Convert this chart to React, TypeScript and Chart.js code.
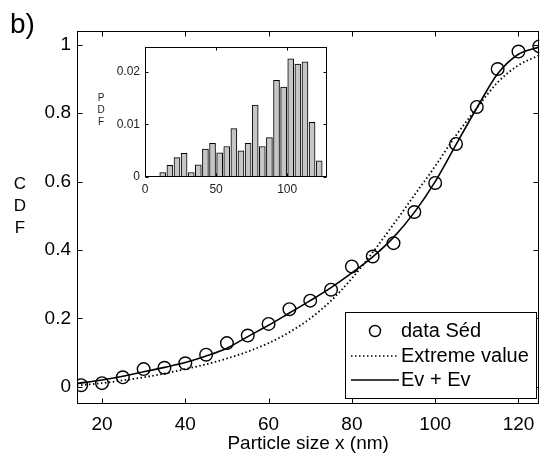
import React, { useEffect, useRef } from 'react';
import { Chart, registerables } from 'chart.js';
Chart.register(...registerables);

// ---- Data ----
const sizeX = [15, 20, 25, 30, 35, 40, 45, 50, 55, 60, 65, 70, 75, 80, 85, 90, 95, 100, 105, 110, 115, 120, 125];
const cdfData = [0.005, 0.011, 0.028, 0.052, 0.056, 0.069, 0.094, 0.128, 0.150, 0.184, 0.227, 0.252, 0.284, 0.352, 0.381, 0.420, 0.511, 0.596, 0.710, 0.818, 0.929, 0.980, 0.995];

const curveX = [14, 20, 25, 30, 35, 40, 45, 50, 55, 60, 65, 70, 75, 80, 85, 90, 95, 100, 105, 110, 115, 120, 125];
const extremeValue = [0.004, 0.011, 0.019, 0.028, 0.039, 0.052, 0.066, 0.083, 0.103, 0.128, 0.16, 0.2, 0.252, 0.317, 0.393, 0.475, 0.56, 0.645, 0.735, 0.815, 0.89, 0.94, 0.969];
const evPlusEv = [0.01, 0.02, 0.031, 0.044, 0.057, 0.071, 0.09, 0.113, 0.147, 0.18, 0.216, 0.252, 0.29, 0.333, 0.38, 0.437, 0.51, 0.6, 0.708, 0.815, 0.915, 0.972, 0.993];

const xTicks = [20, 40, 60, 80, 100, 120];
const yTicks = [0, 0.2, 0.4, 0.6, 0.8, 1];

const binCenters = [12.5, 17.5, 22.5, 27.5, 32.5, 37.5, 42.5, 47.5, 52.5, 57.5, 62.5, 67.5, 72.5, 77.5, 82.5, 87.5, 92.5, 97.5, 102.5, 107.5, 112.5, 117.5, 122.5];
const pdfValues = [0.00085, 0.0022, 0.0037, 0.0045, 0.00085, 0.0023, 0.0053, 0.0064, 0.0046, 0.0058, 0.0092, 0.005, 0.0064, 0.0137, 0.0058, 0.0075, 0.0184, 0.0171, 0.0225, 0.0215, 0.0219, 0.0104, 0.0031];
const insetXTicks = [0, 50, 100];
const insetYTicks = [0, 0.01, 0.02];

const legendLabels = ['data Séd', 'Extreme value', 'Ev + Ev'];

const FONT = "'Liberation Sans', Arial, sans-serif";

function makeFrame(len: number) {
  return {
    id: 'frame',
    afterDatasetsDraw(chart: any) {
      const { ctx, chartArea: a, scales } = chart;
      ctx.save();
      ctx.strokeStyle = '#000';
      ctx.lineWidth = 1;
      const L = Math.round(a.left) + 0.5, R = Math.round(a.right) - 0.5;
      const T = Math.round(a.top) + 0.5, B = Math.round(a.bottom) - 0.5;
      ctx.strokeRect(L, T, R - L, B - T);
      ctx.beginPath();
      scales.x.ticks.forEach((t: any) => {
        const p = Math.round(scales.x.getPixelForValue(t.value)) + 0.5;
        ctx.moveTo(p, B); ctx.lineTo(p, B - len);
        ctx.moveTo(p, T); ctx.lineTo(p, T + len);
      });
      scales.y.ticks.forEach((t: any) => {
        const p = Math.round(scales.y.getPixelForValue(t.value)) + 0.5;
        ctx.moveTo(L, p); ctx.lineTo(L + len, p);
        ctx.moveTo(R, p); ctx.lineTo(R - len, p);
      });
      ctx.stroke();
      ctx.restore();
    },
  };
}

const mainDecor = {
  id: 'mainDecor',
  beforeDraw(chart: any) {
    const { ctx, width, height } = chart;
    ctx.save();
    ctx.fillStyle = '#fff';
    ctx.fillRect(0, 0, width, height);
    ctx.restore();
  },
  afterDraw(chart: any) {
    const { ctx } = chart;
    ctx.save();
    ctx.fillStyle = '#000';
    ctx.textBaseline = 'alphabetic';
    ctx.textAlign = 'left';
    ctx.font = `28px ${FONT}`;
    ctx.fillText('b)', 10, 33);
    ctx.font = `17px ${FONT}`;
    ctx.textAlign = 'center';
    ctx.textBaseline = 'middle';
    ['C', 'D', 'F'].forEach((c, i) => ctx.fillText(c, 20, 184 + i * 22));

    // legend
    const bx = 345.5, by = 312.5, bw = 191, bh = 86;
    ctx.fillStyle = '#fff';
    ctx.fillRect(bx, by, bw, bh);
    ctx.strokeStyle = '#000';
    ctx.lineWidth = 1;
    ctx.strokeRect(bx, by, bw, bh);
    ctx.font = `20px ${FONT}`;
    ctx.textAlign = 'left';
    ctx.fillStyle = '#000';
    const rows = [331, 356, 380];
    ctx.lineWidth = 1.4;
    ctx.beginPath();
    ctx.arc(375, rows[0], 5.5, 0, Math.PI * 2);
    ctx.stroke();
    ctx.lineWidth = 1.6;
    ctx.setLineDash([1.5, 2.5]);
    ctx.beginPath();
    ctx.moveTo(351, rows[1]); ctx.lineTo(399, rows[1]);
    ctx.stroke();
    ctx.setLineDash([]);
    ctx.lineWidth = 1.6;
    ctx.beginPath();
    ctx.moveTo(351, rows[2]); ctx.lineTo(399, rows[2]);
    ctx.stroke();
    ctx.fillText(legendLabels[0], 401, rows[0]);
    ctx.fillText(legendLabels[1], 401, rows[1]);
    ctx.fillText(legendLabels[2], 401, rows[2]);
    ctx.restore();
  },
};

const insetDecor = {
  id: 'insetDecor',
  afterDraw(chart: any) {
    const { ctx } = chart;
    ctx.save();
    ctx.fillStyle = '#222';
    ctx.font = `10px ${FONT}`;
    ctx.textAlign = 'center';
    ctx.textBaseline = 'middle';
    ['P', 'D', 'F'].forEach((c, i) => ctx.fillText(c, 6, 63 + i * 12));
    ctx.restore();
  },
};

export default function App() {
  const mainRef = useRef<HTMLCanvasElement>(null);
  const insetRef = useRef<HTMLCanvasElement>(null);

  useEffect(() => {
    const main = new Chart(mainRef.current!, {
      type: 'line',
      data: {
        datasets: [
          {
            label: legendLabels[0],
            data: sizeX.map((x, i) => ({ x, y: cdfData[i] })),
            showLine: false,
            pointRadius: 6.3,
            pointBorderWidth: 1.4,
            pointBorderColor: '#000',
            pointBackgroundColor: 'rgba(0,0,0,0)',
            borderColor: '#000',
            order: 0,
          },
          {
            label: legendLabels[1],
            data: curveX.map((x, i) => ({ x, y: extremeValue[i] })),
            borderColor: '#000',
            borderWidth: 1.8,
            borderDash: [1.5, 2.5],
            pointRadius: 0,
            cubicInterpolationMode: 'monotone',
            order: 2,
          },
          {
            label: legendLabels[2],
            data: curveX.map((x, i) => ({ x, y: evPlusEv[i] })),
            borderColor: '#000',
            borderWidth: 1.6,
            pointRadius: 0,
            cubicInterpolationMode: 'monotone',
            order: 1,
          },
        ],
      },
      options: {
        responsive: false,
        animation: false,
        events: [],
        layout: { padding: { left: 0, right: 4, top: 31, bottom: 0 } },
        plugins: { legend: { display: false }, tooltip: { enabled: false } },
        scales: {
          x: {
            type: 'linear',
            min: 14,
            max: 125,
            afterBuildTicks: (s: any) => { s.ticks = xTicks.map((v) => ({ value: v })); },
            afterFit: (s: any) => { s.height = 56; },
            grid: { display: false, drawTicks: false },
            border: { display: false },
            ticks: { color: '#000', font: { family: FONT, size: 19 }, padding: 9, maxRotation: 0 },
            title: { display: true, text: 'Particle size x (nm)', color: '#000', font: { family: FONT, size: 19 }, padding: { top: 0, bottom: 5 } },
          },
          y: {
            type: 'linear',
            min: -0.05,
            max: 1.04,
            afterBuildTicks: (s: any) => { s.ticks = yTicks.map((v) => ({ value: v })); },
            afterFit: (s: any) => { s.width = 77; },
            grid: { display: false, drawTicks: false },
            border: { display: false },
            ticks: { color: '#000', font: { family: FONT, size: 19 }, padding: 6, callback: (v: any) => String(v) },
          },
        },
      },
      plugins: [mainDecor, makeFrame(5)],
    } as any);

    const inset = new Chart(insetRef.current!, {
      type: 'bar',
      data: {
        datasets: [
          {
            data: binCenters.map((x, i) => ({ x, y: pdfValues[i] })),
            backgroundColor: '#c6c6c6',
            borderColor: '#000',
            borderWidth: 1,
            barThickness: 6,
          },
        ],
      },
      options: {
        responsive: false,
        animation: false,
        events: [],
        layout: { padding: { left: 0, right: 8, top: 7, bottom: 0 } },
        plugins: { legend: { display: false }, tooltip: { enabled: false } },
        scales: {
          x: {
            type: 'linear',
            offset: false,
            min: 0,
            max: 128,
            afterBuildTicks: (s: any) => { s.ticks = insetXTicks.map((v) => ({ value: v })); },
            afterFit: (s: any) => { s.height = 23; },
            grid: { display: false, drawTicks: false },
            border: { display: false },
            ticks: { color: '#222', font: { family: FONT, size: 12 }, padding: 5, maxRotation: 0 },
          },
          y: {
            type: 'linear',
            min: 0,
            max: 0.0247,
            afterBuildTicks: (s: any) => { s.ticks = insetYTicks.map((v) => ({ value: v })); },
            afterFit: (s: any) => { s.width = 50; },
            grid: { display: false, drawTicks: false },
            border: { display: false },
            ticks: { color: '#222', font: { family: FONT, size: 12 }, padding: 5, callback: (v: any) => String(v) },
          },
        },
      },
      plugins: [insetDecor, makeFrame(3)],
    } as any);

    return () => {
      main.destroy();
      inset.destroy();
    };
  }, []);

  return (
    <div style={{ position: 'fixed', left: 0, top: 0, width: 547, height: 460, background: '#fff' }}>
      <canvas ref={mainRef} width={547} height={460} style={{ position: 'absolute', left: 0, top: 0, width: 547, height: 460 }} />
      <canvas ref={insetRef} width={240} height={165} style={{ position: 'absolute', left: 95, top: 35, width: 240, height: 165 }} />
    </div>
  );
}
